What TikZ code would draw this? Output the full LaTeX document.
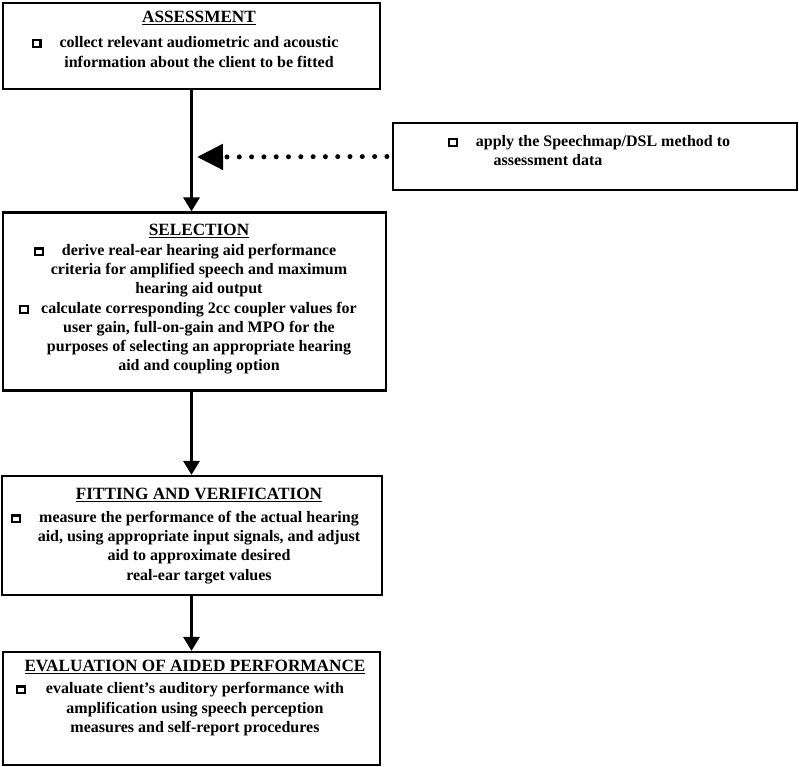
\documentclass[tikz,border=0pt]{standalone}
\usepackage{fontspec}
\setmainfont{Liberation Serif}
\usetikzlibrary{arrows.meta}
\newcommand\bx{\raisebox{1.5bp}{\fboxrule=2.2bp\fboxsep=0pt\fbox{\rule{0pt}{4.5bp}\hspace{5.5bp}}}}
\newcommand\bl[1]{\llap{\bx\hspace{#1}}}
\newcommand\hd[1]{{\fontsize{17.2bp}{19bp}\selectfont\underline{#1}}}
\begin{document}
\begin{tikzpicture}[x=1bp,y=-1bp,
  box/.style={draw,line width=2.2bp,inner sep=0pt},
  txt/.style={anchor=north,align=center,inner sep=0pt,
    font=\bfseries\fontsize{16bp}{#1}\selectfont},
  txt/.default=19.5bp,
  flow/.style={line width=3bp,-{Triangle[length=14bp,width=16bp]}},
  dots/.style={line width=5bp,line cap=round,dash pattern=on 0bp off 12.3bp,
    -{Triangle[length=26bp,width=25bp,line cap=butt]}}]
\useasboundingbox (0,0) rectangle (799,767);
% boxes
\node[box,minimum width=377bp,minimum height=86bp] (assess) at (191.5,46) {};
\node[box,minimum width=404bp,minimum height=67bp] (speech) at (595,156.5) {};
\node[box,minimum width=383bp,minimum height=178bp] (select) at (194.5,301.5) {};
\node[box,minimum width=380bp,minimum height=119bp] (fit) at (192,535.5) {};
\node[box,minimum width=377bp,minimum height=113bp] (eval) at (191.5,708.5) {};
% texts
\node[txt=20.5bp] (assesst) at (199,11) {\hd{ASSESSMENT}\\[4bp]
  \bl{18bp}collect relevant audiometric and acoustic\\
  information about the client to be fitted};
\node[txt] (speecht) at (603,135) {\bl{18bp}apply the Speechmap/DSL method to\\
  \hspace*{-110bp}assessment data};
\node[txt=19.2bp] (selectt) at (199,224) {\hd{SELECTION}\\[0.8bp]
  \bl{18bp}derive real-ear hearing aid performance\\
  criteria for amplified speech and maximum\\
  hearing aid output\\
  \bl{12bp}calculate corresponding 2cc coupler values for\\
  user gain, full-on-gain and MPO for the\\
  purposes of selecting an appropriate hearing\\
  aid and coupling option};
\node[txt=19.2bp] (fitt) at (199,488) {\hd{FITTING AND VERIFICATION}\\[3.8bp]
  \bl{18bp}measure the performance of the actual hearing\\
  aid, using appropriate input signals, and adjust\\
  aid to approximate desired\\
  real-ear target values};
\node[txt] (evalt) at (195,660) {\hd{EVALUATION OF AIDED PERFORMANCE}\\[2.5bp]
  \bl{20bp}evaluate client’s auditory performance with\\
  amplification using speech perception\\
  measures and self-report procedures};
% connectors
\coordinate (join) at (197,157);
\draw[flow] (assess.south) -- (assess.south |- select.north);
\draw[flow] (select.south -| assess.south) -- (assess.south |- fit.north);
\draw[flow] (fit.south -| assess.south) -- (assess.south |- eval.north);
\draw[dots] ([xshift=-5bp]speech.west) -- (join);
\end{tikzpicture}
\end{document}
